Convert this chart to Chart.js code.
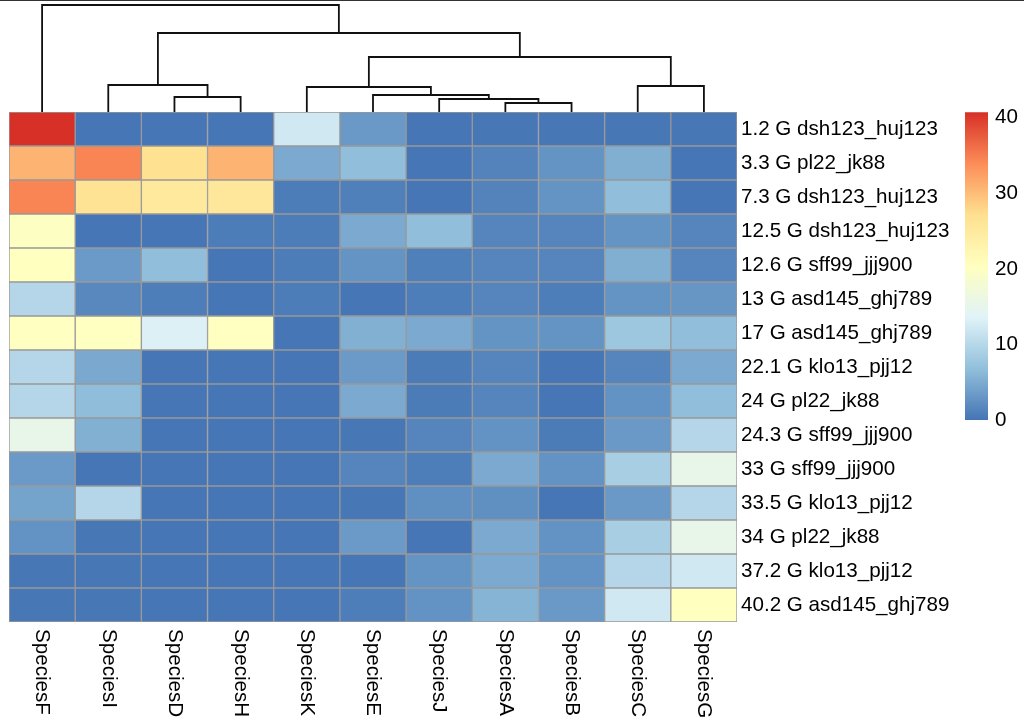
<!DOCTYPE html>
<html><head><meta charset="utf-8">
<script src="https://cdn.jsdelivr.net/npm/chart.js@4"></script>
<style>
html,body{margin:0;padding:0;background:#fff;width:1024px;height:728px;overflow:hidden}
#topline{position:absolute;left:0;top:0;width:1024px;height:1px;background:#333}
canvas{position:absolute}
</style></head><body>
<div id="topline"></div>
<canvas id="dend" width="1024" height="113" style="left:0;top:0"></canvas>
<canvas id="heat" width="1024" height="728" style="left:0;top:0"></canvas>
<canvas id="bar" width="74" height="347" style="left:950px;top:93px"></canvas>
<script>
// ---------- data ----------
const species = ["SpeciesF","SpeciesI","SpeciesD","SpeciesH","SpeciesK","SpeciesE","SpeciesJ","SpeciesA","SpeciesB","SpeciesC","SpeciesG"];
const rowLabels = ["1.2 G dsh123_huj123","3.3 G pl22_jk88","7.3 G dsh123_huj123","12.5 G dsh123_huj123","12.6 G sff99_jjj900","13 G asd145_ghj789","17 G asd145_ghj789","22.1 G klo13_pjj12","24 G pl22_jk88","24.3 G sff99_jjj900","33 G sff99_jjj900","33.5 G klo13_pjj12","34 G pl22_jk88","37.2 G klo13_pjj12","40.2 G asd145_ghj789"];

const speciesF = [40.7, 30.7, 34.5, 20.0, 20.3, 9.8, 20.2, 9.8, 9.8, 15.3, 3.4, 4.2, 2.7, 0.2, 0.2];
const speciesI = [0.1, 34.5, 26.5, 0.1, 3.4, 1.7, 20.2, 4.7, 6.6, 5.4, 0.1, 9.8, 0.2, 0.2, 0.2];
const speciesD = [0.1, 27.0, 25.2, 0.1, 6.8, 0.8, 13.2, 0.1, 0.1, 0.1, 0.1, 0.1, 0.1, 0.1, 0.1];
const speciesH = [0.1, 30.7, 25.5, 0.7, 0.1, 0.1, 20.2, 0.1, 0.1, 0.1, 0.1, 0.1, 0.1, 0.1, 0.1];
const speciesK = [12.1, 4.8, 0.7, 0.7, 0.7, 0.7, 0.1, 0.1, 0.1, 0.1, 0.1, 0.1, 0.1, 0.1, 0.1];
const speciesE = [3.3, 6.8, 1.0, 4.8, 2.8, 0.1, 5.4, 3.4, 4.8, 0.2, 1.5, 0.2, 3.4, 0.1, 0.8];
const speciesJ = [0.1, 0.1, 0.1, 6.8, 1.0, 0.8, 4.8, 0.6, 0.6, 1.5, 0.8, 2.4, 0.1, 2.8, 2.7];
const speciesA = [0.2, 1.3, 1.3, 1.5, 1.5, 1.5, 2.8, 1.5, 1.5, 2.7, 4.8, 2.4, 4.8, 4.8, 5.8];
const speciesB = [0.2, 2.8, 2.8, 1.5, 1.5, 0.8, 2.8, 0.1, 0.1, 0.6, 2.7, 0.1, 2.7, 2.7, 3.3];
const speciesC = [0.2, 5.3, 6.8, 2.8, 5.3, 2.8, 7.8, 1.5, 2.7, 3.3, 8.8, 3.3, 8.8, 9.8, 12.1];
const speciesG = [0.2, 0.1, 0.1, 1.5, 1.5, 3.0, 6.8, 4.8, 6.8, 9.8, 15.3, 9.8, 15.3, 12.1, 20.3];
const speciesValues = [speciesF, speciesI, speciesD, speciesH, speciesK, speciesE, speciesJ, speciesA, speciesB, speciesC, speciesG];

// column dendrogram: children are species names or 1-based merge numbers
const mergeLeft   = ["SpeciesA","SpeciesJ","SpeciesD","SpeciesE","SpeciesK","SpeciesC","SpeciesI", 5, 7, "SpeciesF"];
const mergeRight  = ["SpeciesB", 1, "SpeciesH", 2, 4, "SpeciesG", 3, 6, 8, 9];
const mergeHeight = [9, 13, 15, 17, 25, 26, 27, 55, 79, 107];

const legendTicks = [0, 10, 20, 30, 40];
const scaleMin = 0, scaleMax = 40.7;
const palette = ["#4575B4","#91BFDB","#E0F3F8","#FFFFBF","#FEE090","#FC8D59","#D73027"];

// ---------- helpers ----------
function hexRgb(h){return [parseInt(h.slice(1,3),16),parseInt(h.slice(3,5),16),parseInt(h.slice(5,7),16)];}
const palRgb = palette.map(hexRgb);
function valueColor(v){
  let t = (v - scaleMin) / (scaleMax - scaleMin);
  t = Math.max(0, Math.min(1, t)) * (palRgb.length - 1);
  const i = Math.min(Math.floor(t), palRgb.length - 2), f = t - i;
  const a = palRgb[i], b = palRgb[i+1];
  return `rgb(${Math.round(a[0]+(b[0]-a[0])*f)},${Math.round(a[1]+(b[1]-a[1])*f)},${Math.round(a[2]+(b[2]-a[2])*f)})`;
}
const FONT = '"Liberation Sans", Arial, sans-serif';
const FSIZE = 20.6;

// ---------- dendrogram ----------
const nodeX = [], nodeH = [];
function childPos(c){ return typeof c === 'number' ? [nodeX[c-1], nodeH[c-1]] : [species.indexOf(c), 0]; }
const dendSets = [];
mergeHeight.forEach((h, k) => {
  const [xl, hl] = childPos(mergeLeft[k]);
  const [xr, hr] = childPos(mergeRight[k]);
  nodeX.push((xl + xr) / 2); nodeH.push(h);
  dendSets.push({
    data: [{x: xl, y: hl}, {x: xl, y: h}, {x: xr, y: h}, {x: xr, y: hr}],
    showLine: true, borderColor: '#111', borderWidth: 1.8, pointRadius: 0,
    tension: 0, clip: false, fill: false, borderCapStyle: 'square', borderJoinStyle: 'miter'
  });
});
new Chart(document.getElementById('dend'), {
  type: 'scatter',
  data: { datasets: dendSets },
  options: {
    responsive: false, animation: false, events: [],
    layout: { padding: { left: 9, right: 287, top: 0, bottom: 1 } },
    plugins: { legend: { display: false }, tooltip: { enabled: false } },
    scales: {
      x: { type: 'linear', min: -0.5, max: species.length - 0.5, display: false },
      y: { type: 'linear', min: 0, max: 112, display: false }
    }
  }
});

// ---------- heatmap ----------
const colLabelPlugin = {
  id: 'colLabels',
  afterDraw(chart){
    const ctx = chart.ctx, xs = chart.scales.x;
    ctx.save();
    ctx.font = FSIZE + 'px ' + FONT; ctx.fillStyle = '#000';
    ctx.textAlign = 'left'; ctx.textBaseline = 'middle';
    species.forEach((s, i) => {
      ctx.save();
      ctx.translate(xs.getPixelForValue(i + 0.5), chart.chartArea.bottom + 7);
      ctx.rotate(Math.PI / 2);
      ctx.fillText(s, 0, 0);
      ctx.restore();
    });
    ctx.restore();
  }
};
new Chart(document.getElementById('heat'), {
  type: 'bar',
  data: {
    labels: rowLabels,
    datasets: species.map((s, i) => ({
      label: s,
      data: rowLabels.map(() => 1),
      backgroundColor: speciesValues[i].map(valueColor),
      borderColor: '#999999', borderWidth: 1, borderSkipped: false,
      barPercentage: 1, categoryPercentage: 1
    }))
  },
  options: {
    indexAxis: 'y', responsive: false, animation: false, events: [],
    layout: { padding: { left: 9, top: 112, bottom: 106, right: 0 } },
    plugins: { legend: { display: false }, tooltip: { enabled: false } },
    scales: {
      x: { type: 'linear', stacked: true, min: 0, max: species.length, display: false },
      y: {
        type: 'category', stacked: true, position: 'right',
        grid: { display: false, drawTicks: false }, border: { display: false },
        ticks: { font: { family: FONT, size: FSIZE }, color: '#000', padding: 4, autoSkip: false },
        afterFit(s){ s.width = 287; }
      }
    }
  },
  plugins: [colLabelPlugin]
});

// ---------- colour legend ----------
new Chart(document.getElementById('bar'), {
  type: 'bar',
  data: {
    labels: [''],
    datasets: [{
      data: [[scaleMin, scaleMax]],
      backgroundColor: (c) => {
        const chart = c.chart;
        if (!chart.chartArea) return palette[0];
        const ys = chart.scales.y;
        const g = chart.ctx.createLinearGradient(0, ys.getPixelForValue(scaleMin), 0, ys.getPixelForValue(scaleMax));
        palette.forEach((col, k) => g.addColorStop(k / (palette.length - 1), col));
        return g;
      },
      borderWidth: 0, barPercentage: 1, categoryPercentage: 1
    }]
  },
  options: {
    responsive: false, animation: false, events: [],
    layout: { padding: { left: 15, top: 19, bottom: 20, right: 0 } },
    plugins: { legend: { display: false }, tooltip: { enabled: false } },
    scales: {
      x: { display: false },
      y: {
        position: 'right', min: scaleMin, max: scaleMax,
        grid: { display: false, drawTicks: false }, border: { display: false },
        afterBuildTicks(s){ s.ticks = legendTicks.map(v => ({ value: v })); },
        ticks: { font: { family: FONT, size: FSIZE }, color: '#000', padding: 7 },
        afterFit(s){ s.width = 36; }
      }
    }
  }
});
</script>
</body></html>
